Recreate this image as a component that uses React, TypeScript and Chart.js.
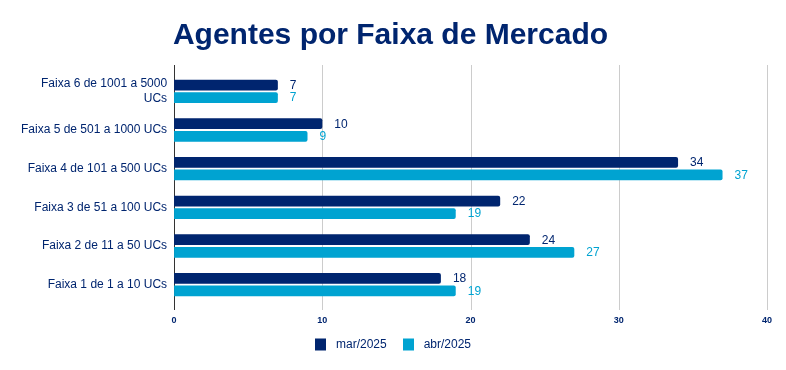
import React, { useEffect, useRef } from "react";
import { Chart, registerables } from "chart.js";

Chart.register(...registerables);

const categories: (string | string[])[] = [
  ["Faixa 6 de 1001 a 5000", "UCs"],
  "Faixa 5 de 501 a 1000 UCs",
  "Faixa 4 de 101 a 500 UCs",
  "Faixa 3 de 51 a 100 UCs",
  "Faixa 2 de 11 a 50 UCs",
  "Faixa 1 de 1 a 10 UCs",
];
const marValues = [7, 10, 34, 22, 24, 18];
const abrValues = [7, 9, 37, 19, 27, 19];
const seriesNames = ["mar/2025", "abr/2025"];
const xTicks = [0, 10, 20, 30, 40];

const NAVY = "#00256F";
const LIGHT = "#00A3D1";
const FONT = "'Liberation Sans', Arial, sans-serif";

const gridPlugin = {
  id: "customGrid",
  beforeDatasetsDraw(chart: any) {
    const { ctx, chartArea, scales } = chart;
    const x = scales.x;
    ctx.save();
    xTicks.forEach((v) => {
      const px = Math.round(x.getPixelForValue(v)) + 0.5;
      ctx.beginPath();
      ctx.strokeStyle = v === 0 ? "#333333" : "#cccccc";
      ctx.lineWidth = 1;
      ctx.moveTo(px, chartArea.top - 7);
      ctx.lineTo(px, chartArea.bottom + 6);
      ctx.stroke();
    });
    ctx.restore();
  },
};

const valueLabelPlugin = {
  id: "valueLabels",
  afterDatasetsDraw(chart: any) {
    const { ctx } = chart;
    ctx.save();
    ctx.font = `12px ${FONT}`;
    ctx.textAlign = "left";
    ctx.textBaseline = "middle";
    chart.data.datasets.forEach((ds: any, i: number) => {
      const meta = chart.getDatasetMeta(i);
      ctx.fillStyle = ds.backgroundColor;
      meta.data.forEach((bar: any, j: number) => {
        ctx.fillText(String(ds.data[j]), bar.x + 12, bar.y + 0.5);
      });
    });
    ctx.restore();
  },
};

const legendPlugin = {
  id: "customLegend",
  afterDraw(chart: any) {
    const { ctx, width } = chart;
    const datasets = chart.data.datasets;
    ctx.save();
    ctx.font = `12px ${FONT}`;
    ctx.textBaseline = "middle";
    ctx.textAlign = "left";
    const box = 11;
    const gap = 10;
    const itemGap = 16;
    const widths = datasets.map((ds: any) => ctx.measureText(ds.label).width);
    const total =
      widths.reduce((a: number, w: number) => a + box + gap + w, 0) + itemGap * (datasets.length - 1);
    let x = width / 2 - total / 2;
    const cy = 344.5;
    datasets.forEach((ds: any, i: number) => {
      ctx.fillStyle = ds.backgroundColor;
      ctx.fillRect(Math.round(x), cy - 6, box, 12);
      ctx.fillStyle = NAVY;
      ctx.fillText(ds.label, x + box + gap, cy);
      x += box + gap + widths[i] + itemGap;
    });
    ctx.restore();
  },
};

export default function App() {
  const ref = useRef<HTMLCanvasElement | null>(null);
  useEffect(() => {
    if (!ref.current) return;
    const chart = new Chart(ref.current, {
      type: "bar",
      data: {
        labels: categories,
        datasets: [
          {
            label: seriesNames[0],
            data: marValues,
            backgroundColor: NAVY,
            borderRadius: 2,
            borderSkipped: "start",
            categoryPercentage: 0.65,
            barPercentage: 0.86,
          },
          {
            label: seriesNames[1],
            data: abrValues,
            backgroundColor: LIGHT,
            borderRadius: 2,
            borderSkipped: "start",
            categoryPercentage: 0.65,
            barPercentage: 0.86,
          },
        ],
      },
      options: {
        indexAxis: "y",
        animation: false,
        responsive: false,
        maintainAspectRatio: false,
        layout: { padding: { left: 14, right: 19, top: 0, bottom: 47 } },
        scales: {
          x: {
            min: 0,
            max: 40,
            afterBuildTicks: (axis: any) => {
              axis.ticks = xTicks.map((v) => ({ value: v }));
            },
            afterFit: (axis: any) => {
              axis.height = 19;
            },
            grid: { display: false, drawTicks: false },
            border: { display: false },
            ticks: {
              color: NAVY,
              padding: 11,
              font: { family: FONT, size: 9, weight: "bold" },
            },
          },
          y: {
            grid: { display: false, drawTicks: false },
            border: { display: false },
            ticks: {
              color: NAVY,
              padding: 7,
              font: { family: FONT, size: 12 },
            },
          },
        },
        plugins: {
          title: {
            display: true,
            text: "Agentes por Faixa de Mercado",
            color: NAVY,
            font: { family: FONT, size: 30, weight: "bold" },
            padding: { top: 18, bottom: 18 },
          },
          legend: { display: false },
          tooltip: { enabled: false },
        },
      },
      plugins: [gridPlugin, valueLabelPlugin, legendPlugin],
    });
    return () => chart.destroy();
  }, []);
  return (
    <div style={{ position: "fixed", left: 0, top: 0, width: 786, height: 370, background: "#fff" }}>
      <canvas ref={ref} width={786} height={370} style={{ width: 786, height: 370, display: "block" }} />
    </div>
  );
}
